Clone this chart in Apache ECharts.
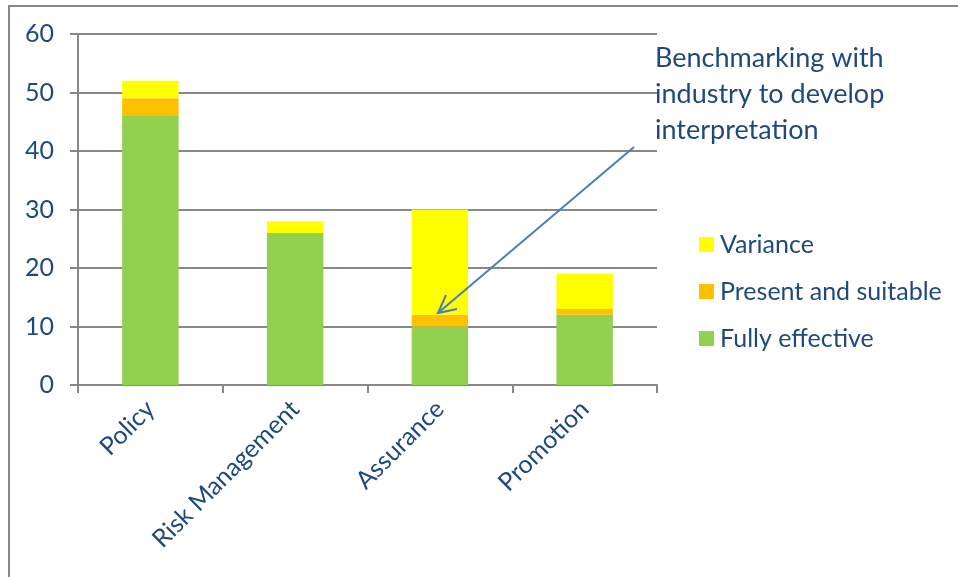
<!DOCTYPE html>
<html>
<head>
<meta charset="utf-8">
<script src="https://cdn.jsdelivr.net/npm/echarts@6/dist/echarts.min.js"></script>
<style>
  html, body { margin: 0; padding: 0; background: #fff; }
  #chart { width: 958px; height: 577px; }
</style>
</head>
<body>
<div id="chart"></div>
<script>
// categories and stacked values
var categories = ['Policy', 'Risk Management', 'Assurance', 'Promotion'];
var fullyEffective = [46, 26, 10, 12];
var presentSuitable = [3, 0, 2, 1];
var variance = [3, 2, 18, 6];

var textColor = '#1f497d';
var fontName = 'Lato';

var myChart = echarts.init(document.getElementById('chart'));

var option = {
    animation: false,
    textStyle: { fontFamily: fontName },
    grid: { left: 78, right: 301, top: 34, bottom: 192 },
    legend: {
        orient: 'vertical',
        left: 694,
        top: 227,
        itemWidth: 15,
        itemHeight: 15,
        itemGap: 22,
        icon: 'rect',
        data: ['Variance', 'Present and suitable', 'Fully effective'],
        textStyle: { color: textColor, fontSize: 25, fontFamily: fontName, padding: [0, 0, 0, 1] }
    },
    xAxis: {
        type: 'category',
        data: categories,
        axisLine: { lineStyle: { color: '#888', width: 2 } },
        axisTick: { show: true, length: 8, lineStyle: { color: '#888', width: 2 } },
        axisLabel: { rotate: 45, color: textColor, fontSize: 25, margin: 20, fontFamily: fontName }
    },
    yAxis: {
        type: 'value',
        min: 0,
        max: 60,
        interval: 10,
        axisLine: { show: true, lineStyle: { color: '#888', width: 2 } },
        axisTick: { show: true, length: 8, lineStyle: { color: '#888', width: 2 } },
        splitLine: { lineStyle: { color: '#888', width: 2 } },
        axisLabel: { color: textColor, fontSize: 25, margin: 24, fontFamily: fontName }
    },
    series: [
        {
            name: 'Fully effective', type: 'bar', stack: 'a', barWidth: '39%',
            itemStyle: { color: '#92d050' }, data: fullyEffective
        },
        {
            name: 'Present and suitable', type: 'bar', stack: 'a',
            itemStyle: { color: '#ffc000' }, data: presentSuitable
        },
        {
            name: 'Variance', type: 'bar', stack: 'a',
            itemStyle: { color: '#ffff00' }, data: variance
        }
    ],
    graphic: [
        {
            type: 'rect', silent: true,
            shape: { x: 9, y: 6, width: 1000, height: 700 },
            style: { fill: 'none', stroke: '#888', lineWidth: 2 }
        },
        {
            type: 'text', left: 655, top: 40, z: 100,
            style: {
                text: 'Benchmarking with\nindustry to develop\ninterpretation',
                fill: textColor, font: '27px ' + fontName, lineHeight: 36
            }
        },
        {
            type: 'line', z: 100,
            shape: { x1: 634, y1: 147, x2: 438, y2: 313 },
            style: { stroke: '#4a7ebb', lineWidth: 2 }
        },
        {
            type: 'polyline', z: 100,
            shape: { points: [[446, 295], [438, 313], [457, 309]] },
            style: { stroke: '#4a7ebb', lineWidth: 2, fill: 'none' }
        }
    ]
};

option && myChart.setOption(option);
</script>
</body>
</html>
